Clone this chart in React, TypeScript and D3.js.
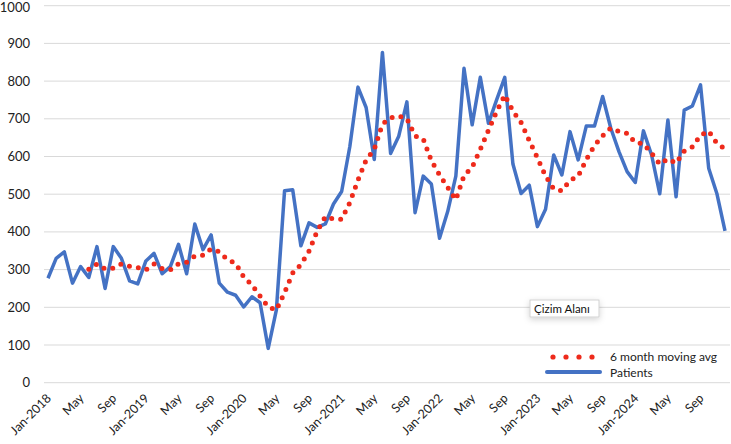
import React from 'react';
import * as d3 from 'd3';

// Monthly patient counts, Jan-2018 .. Dec-2024
const patients = [
  277, 330, 347, 264, 308, 279, 361, 250, 361, 330, 270, 262,
  323, 343, 289, 308, 367, 289, 421, 353, 392, 264, 240, 232,
  201, 228, 212, 91, 193, 509, 512, 363, 424, 412, 421, 474,
  507, 626, 784, 730, 592, 876, 608, 654, 745, 451, 548, 527,
  383, 454, 548, 834, 684, 810, 688, 750, 810, 580, 502, 524,
  414, 460, 604, 551, 666, 591, 681, 681, 759, 675, 613, 560,
  531, 668, 604, 501, 697, 493, 723, 734, 790, 569, 502, 403,
];

const yTicks = [0, 100, 200, 300, 400, 500, 600, 700, 800, 900, 1000];
const monthNames = ['Jan', 'May', 'Sep'];
const startYear = 2018;
const window6 = 6;

const W = 731;
const H = 444;
const font = 'Lato, "Open Sans", sans-serif';

const App = () => {
  const x = d3.scaleLinear().domain([0, patients.length - 1]).range([48, 725]);
  const y = d3.scaleLinear().domain([0, 1000]).range([382.7, 5.7]);

  // trailing 6 month moving average (Excel style trendline)
  const movingAvg = patients
    .map((_, i) => (i < window6 - 1 ? null : d3.mean(patients.slice(i - window6 + 1, i + 1))))
    .map((v, i) => ({ i, v }))
    .filter(d => d.v !== null) as { i: number; v: number }[];

  const line = d3.line<number>().x((_, i) => x(i)).y(d => y(d));
  const avgLine = d3.line<{ i: number; v: number }>().x(d => x(d.i)).y(d => y(d.v));

  const xTicks = d3.range(0, patients.length, 4).map(i => {
    const m = monthNames[(i % 12) / 4];
    const label = m === 'Jan' ? `Jan-${startYear + Math.floor(i / 12)}` : m;
    return { i, label };
  });

  return (
    <svg width={W} height={H} style={{ position: 'absolute', left: 0, top: 0, background: '#fff' }}>
      <defs>
        <filter id="shadow" x="-30%" y="-50%" width="160%" height="220%">
          <feDropShadow dx="0" dy="2" stdDeviation="3" floodColor="#000" floodOpacity="0.18" />
        </filter>
      </defs>

      {/* gridlines */}
      {yTicks.map(t => (
        <line key={t} x1={44} x2={730} y1={y(t)} y2={y(t)} stroke="#d9d9d9" strokeWidth={1} />
      ))}

      {/* y axis labels */}
      {yTicks.map(t => (
        <text key={t} x={30} y={Math.max(y(t), 7)} dy="0.35em" textAnchor="end" fontFamily={font} fontSize={13} fill="#222">
          {t}
        </text>
      ))}

      {/* x axis labels */}
      {xTicks.map(d => (
        <text
          key={d.i}
          transform={`translate(${x(d.i) + 4},${399}) rotate(-45)`}
          textAnchor="end"
          fontFamily={font}
          fontSize={12.5}
          fill="#222"
        >
          {d.label}
        </text>
      ))}

      {/* patients */}
      <path d={line(patients) || ''} fill="none" stroke="#4472c4" strokeWidth={3.5} strokeLinejoin="round" />

      {/* moving average */}
      <path
        d={avgLine(movingAvg) || ''}
        fill="none"
        stroke="#ee2a1b"
        strokeWidth={5}
        strokeLinecap="round"
        strokeDasharray="0 9"
      />

      {/* legend */}
      <g fontFamily={font} fontSize={12} fill="#222">
        {[553, 566, 579, 592].map(cx => (
          <circle key={cx} cx={cx} cy={357} r={2.6} fill="#ee2a1b" />
        ))}
        <text x={610} y={361}>6 month moving avg</text>
        <line x1={547} x2={600} y1={372} y2={372} stroke="#4472c4" strokeWidth={4} strokeLinecap="round" />
        <text x={610} y={377}>Patients</text>
      </g>

      {/* hover tag */}
      <g>
        <rect x={530} y={300} width={69} height={17} fill="#fff" stroke="#c8c8c8" strokeWidth={0.8} filter="url(#shadow)" />
        <text x={534} y={313} fontFamily={font} fontSize={11.5} fill="#111">Çizim Alanı</text>
      </g>
    </svg>
  );
};

export default App;
